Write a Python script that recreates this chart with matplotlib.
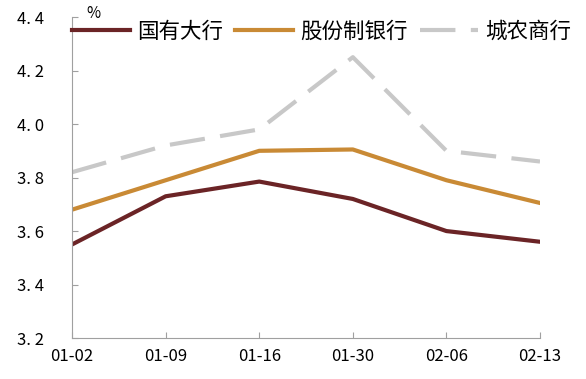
import matplotlib.pyplot as plt

plt.rcParams['font.family'] = ['Noto Sans CJK SC', 'DejaVu Sans']

dates = ['01-02', '01-09', '01-16', '01-30', '02-06', '02-13']
big_banks = [3.55, 3.73, 3.785, 3.72, 3.60, 3.56]
joint_stock = [3.68, 3.79, 3.90, 3.905, 3.79, 3.705]
city_rural = [3.82, 3.92, 3.98, 4.25, 3.90, 3.86]

fig = plt.figure(figsize=(5.86, 3.79), dpi=100)
ax = fig.add_axes([0.123, 0.108, 0.7985, 0.847])

x = range(len(dates))
ax.plot(x, big_banks, color='#6B2426', lw=3, label='国有大行')
ax.plot(x, joint_stock, color='#C98A35', lw=3, label='股份制银行')
ax.plot(x, city_rural, color='#C8C8C8', lw=3, linestyle=(0, (8.5, 3.7)), label='城农商行')

ax.set_xlim(0, len(dates) - 1)
ax.set_ylim(3.2, 4.4)
ax.set_xticks(list(x))
ax.set_xticklabels(dates)
ax.set_yticks([3.2, 3.4, 3.6, 3.8, 4.0, 4.2, 4.4])
ax.set_yticklabels(['3. 2', '3. 4', '3. 6', '3. 8', '4. 0', '4. 2', '4. 4'])

for s in ['top', 'right']:
    ax.spines[s].set_visible(False)
for s in ['left', 'bottom']:
    ax.spines[s].set_color('#A0A0A0')
ax.tick_params(axis='both', direction='in', color='#A0A0A0', length=4, labelsize=12)
ax.tick_params(axis='y', pad=20)
ax.tick_params(axis='x', pad=7)

ax.text(0.03, 1.01, '%', transform=ax.transAxes, fontsize=11, va='center', ha='left')

ax.legend(loc='center left', bbox_to_anchor=(0.0, 0.955), ncol=3, frameon=False,
          fontsize=15.5, handlelength=2.7, handletextpad=0.33, columnspacing=0.55,
          borderaxespad=0, borderpad=0)

fig.savefig('out.png', dpi=100)
